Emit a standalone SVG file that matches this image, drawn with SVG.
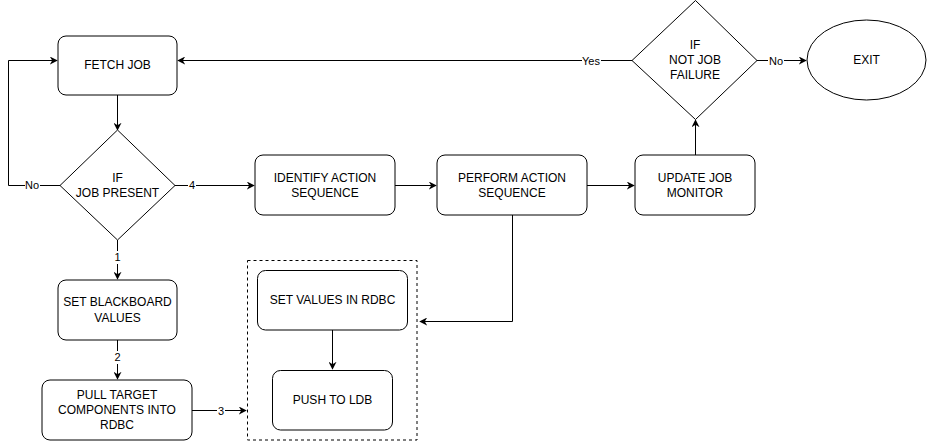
<svg xmlns="http://www.w3.org/2000/svg" width="928" height="441" viewBox="0 0 928 441">
<defs>
<marker id="arr" viewBox="0 0 10 10" refX="9" refY="5" markerWidth="8" markerHeight="8" markerUnits="userSpaceOnUse" orient="auto">
<path d="M0,0 L10,5 L0,10 L3,5 Z" fill="#000"/>
</marker>
<style>
.box{fill:#fff;stroke:#000;stroke-width:1}
.t{font-family:"Liberation Sans",Arial,sans-serif;font-size:12px;fill:#000;text-anchor:middle}
.lbl{font-family:"Liberation Sans",Arial,sans-serif;font-size:11px;fill:#000;text-anchor:middle}
.c{fill:none;stroke:#000;stroke-width:1;marker-end:url(#arr)}
.lb{fill:#fff}
</style>
</defs>
<rect width="928" height="441" fill="#fff"/>
<g id="connectors">
<path class="c" d="M117.5,95 V130"/>
<path class="c" d="M60,185.5 H8.5 V60.5 H57"/>
<path class="c" d="M175,185.5 H254"/>
<path class="c" d="M395,185.5 H436"/>
<path class="c" d="M587,185.5 H634"/>
<path class="c" d="M695.5,155 V120"/>
<path class="c" d="M632,60.5 H178"/>
<path class="c" d="M757,60.5 H806"/>
<path class="c" d="M117.5,240 V279"/>
<path class="c" d="M117.5,340 V379"/>
<path class="c" d="M192,410.5 H246"/>
<path class="c" d="M512.5,215 V321.5 H420"/>
<path class="c" d="M332.5,330 V369"/>
<rect class="lb" x="25" y="178" width="15" height="14"/>
<text class="lbl" x="32" y="189">No</text>
<rect class="lb" x="188" y="178" width="8" height="14"/>
<text class="lbl" x="192" y="189">4</text>
<rect class="lb" x="582" y="54" width="19" height="14"/>
<text class="lbl" x="591" y="65">Yes</text>
<rect class="lb" x="768" y="54" width="16" height="14"/>
<text class="lbl" x="776" y="65">No</text>
<rect class="lb" x="113" y="251" width="8" height="13"/>
<text class="lbl" x="117.5" y="261">1</text>
<rect class="lb" x="113" y="351" width="8" height="13"/>
<text class="lbl" x="117.5" y="361">2</text>
<rect class="lb" x="217" y="404" width="8" height="14"/>
<text class="lbl" x="221" y="415">3</text>
</g>
<g id="fetch-job">
<rect class="box" x="58" y="36" width="119" height="59" rx="8"/>
<text class="t" x="117.5" y="69">FETCH JOB</text>
</g>
<g id="if-job-present">
<path class="box" d="M117.5,130 L175,185.5 L117.5,240 L60,185.5 Z"/>
<text class="t" x="117.5" y="182">IF</text>
<text class="t" x="117.5" y="197">JOB PRESENT</text>
</g>
<g id="identify-action-sequence">
<rect class="box" x="255" y="155" width="140" height="60" rx="8"/>
<text class="t" x="325" y="182">IDENTIFY ACTION</text>
<text class="t" x="325" y="197">SEQUENCE</text>
</g>
<g id="perform-action-sequence">
<rect class="box" x="437" y="155" width="150" height="60" rx="8"/>
<text class="t" x="512" y="182">PERFORM ACTION</text>
<text class="t" x="512" y="197">SEQUENCE</text>
</g>
<g id="update-job-monitor">
<rect class="box" x="635" y="155" width="120" height="60" rx="8"/>
<text class="t" x="695" y="182">UPDATE JOB</text>
<text class="t" x="695" y="197">MONITOR</text>
</g>
<g id="if-not-job-failure">
<path class="box" d="M695.5,0.5 L757,60.5 L695.5,119.5 L632,60.5 Z"/>
<text class="t" x="695" y="49">IF</text>
<text class="t" x="695" y="64">NOT JOB</text>
<text class="t" x="695" y="79">FAILURE</text>
</g>
<g id="exit">
<ellipse class="box" cx="866.5" cy="60" rx="59.5" ry="40"/>
<text class="t" x="866.5" y="64">EXIT</text>
</g>
<g id="set-blackboard-values">
<rect class="box" x="58" y="280" width="119" height="60" rx="8"/>
<text class="t" x="117.5" y="306">SET BLACKBOARD</text>
<text class="t" x="117.5" y="322">VALUES</text>
</g>
<g id="pull-target-components">
<rect class="box" x="42" y="380" width="150" height="60" rx="8"/>
<text class="t" x="117" y="399">PULL TARGET</text>
<text class="t" x="117" y="414">COMPONENTS INTO</text>
<text class="t" x="117" y="429">RDBC</text>
</g>
<g id="rdbc-group">
<rect x="247.5" y="260.5" width="169.5" height="179.5" fill="none" stroke="#000" stroke-dasharray="3,3"/>
</g>
<g id="set-values-in-rdbc">
<rect class="box" x="257.5" y="270.5" width="150" height="59.5" rx="8"/>
<text class="t" x="332.5" y="304">SET VALUES IN RDBC</text>
</g>
<g id="push-to-ldb">
<rect class="box" x="272.5" y="370.5" width="120" height="59.5" rx="8"/>
<text class="t" x="332.5" y="404">PUSH TO LDB</text>
</g>
</svg>
